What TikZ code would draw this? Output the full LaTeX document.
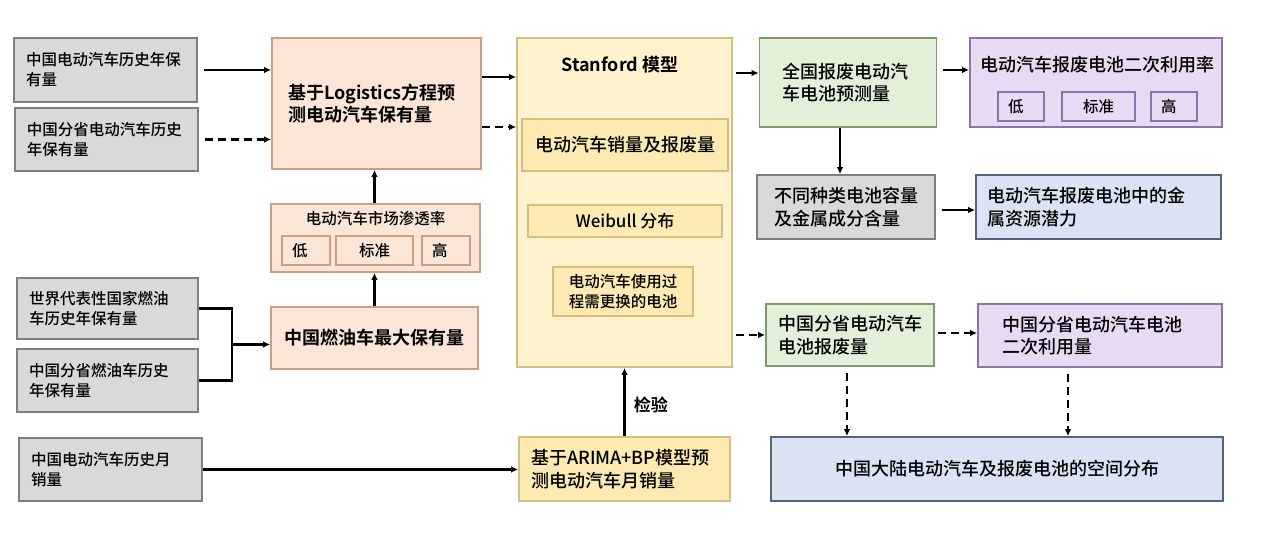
\documentclass[tikz,border=0pt]{standalone}
\usepackage{fontspec}
\setmainfont{Noto Sans CJK SC}[UprightFont={* Medium}, BoldFont={* Bold}]
\usetikzlibrary{arrows.meta,positioning,calc}

\definecolor{grayfill}{HTML}{D9D9D9}
\definecolor{graydraw}{HTML}{7F7F7F}
\definecolor{peachfill}{HTML}{FBE5D6}
\definecolor{peachdraw}{HTML}{C9A085}
\definecolor{yelfill}{HTML}{FFF2CC}
\definecolor{yeldraw}{HTML}{D5BE82}
\definecolor{yelinner}{HTML}{FDE9B2}
\definecolor{greenfill}{HTML}{E2EFD9}
\definecolor{greendraw}{HTML}{7E9A6A}
\definecolor{purpfill}{HTML}{E9DAF4}
\definecolor{purpdraw}{HTML}{8A76A6}
\definecolor{bluefill}{HTML}{DAE3F3}
\definecolor{bluedraw}{HTML}{56627A}

\newcommand{\txtS}{\fontsize{15.5}{20}\selectfont}
\newcommand{\txtL}{\fontsize{18}{22.5}\selectfont}

\begin{document}
\begin{tikzpicture}[x=1pt, y=-1pt,
  box/.style={line width=1.6pt, align=left, inner xsep=12pt, inner ysep=0pt, font=\txtL},
  graybox/.style={box, draw=graydraw, fill=grayfill},
  peachbox/.style={box, draw=peachdraw, fill=peachfill},
  yelbox/.style={box, draw=yeldraw, fill=yelinner},
  greenbox/.style={box, draw=greendraw, fill=greenfill},
  purpbox/.style={box, draw=purpdraw, fill=purpfill},
  bluebox/.style={box, draw=bluedraw, fill=bluefill},
  lvl/.style={line width=1.6pt, minimum height=29, inner sep=0pt, font=\txtS},
  lvlside/.style={lvl, text width=28pt, align=left, inner xsep=10pt},
  arr/.style={line width=2.2pt, -{Latex[length=7pt,width=6.5pt]}},
  darr/.style={arr, dash pattern=on 8pt off 5pt},
]
\useasboundingbox (0,0) rectangle (1280,545);

% inputs on the left
\node[graybox, font=\txtS, text width=159pt, minimum height=64] (a1) at (105.5,70) {中国电动汽车历史年保\\有量};
\node[graybox, font=\txtS, text width=159pt, minimum height=63] (a2) at (106.5,139.5) {中国分省电动汽车历史\\年保有量};
\node[graybox, font=\txtS, text width=157pt, minimum height=61] (b1) at (107.5,308.5) {世界代表性国家燃油\\车历史年保有量};
\node[graybox, font=\txtS, text width=157pt, minimum height=63] (b2) at (107.5,380.5) {中国分省燃油车历史\\年保有量};
\node[graybox, font=\txtS, text width=159pt, minimum height=63] (c1) at (110.5,469.5) {中国电动汽车历史月\\销量};

% peach column
\node[peachbox, font=\txtL\bfseries, text width=177pt, inner xsep=16pt, minimum height=131] (lg) at (376.5,103.5) {基于Logistics方程预\\测电动汽车保有量};
\node[peachbox, minimum width=209, minimum height=68] (pen) at (375.5,238) {};
\node[font=\txtS] (pent) at (375.5,219) {电动汽车市场渗透率};
\node[lvlside, draw=peachdraw, fill=peachfill] (penl) at (306,250.5) {低};
\node[lvl, draw=peachdraw, fill=peachfill, minimum width=77] (pens) at (374.5,250.5) {标准};
\node[lvlside, draw=peachdraw, fill=peachfill] (penh) at (446,250.5) {高};
\node[peachbox, font=\txtL\bfseries, minimum width=207, minimum height=62] (cm) at (374.5,338) {中国燃油车最大保有量};

% Stanford model
\node[box, draw=yeldraw, fill=yelfill, minimum width=215, minimum height=329] (sf) at (624.5,202.5) {};
\node[font=\txtL\bfseries] (sft) at (620,65) {Stanford 模型};
\node[yelbox, minimum width=206, minimum height=52] (sales) at (625,145) {电动汽车销量及报废量};
\node[yelbox, font=\fontsize{17}{20}\selectfont, minimum width=194, minimum height=32] (wb) at (625,221) {Weibull 分布};
\node[yelbox, font=\txtS, minimum width=140, minimum height=49] (rep) at (623,291.5) {电动汽车使用过\\程需更换的电池};
\node[yelbox, text width=187pt, minimum height=64] (ar) at (624.5,469) {基于ARIMA+BP模型预\\测电动汽车月销量};

% outputs on the right
\node[greenbox, text width=131pt, inner xsep=23pt, minimum height=89] (g1) at (848,82.5) {全国报废电动汽\\车电池预测量};
\node[purpbox, minimum width=252, minimum height=89] (p1) at (1096,82.5) {};
\node[font=\txtL] (p1t) at (1097,65) {电动汽车报废电池二次利用率};
\node[lvlside, draw=purpdraw, fill=purpfill, text width=26pt] (p1l) at (1021,106.5) {低};
\node[lvl, draw=purpdraw, fill=purpfill, minimum width=73] (p1s) at (1098.5,106.5) {标准};
\node[lvlside, draw=purpdraw, fill=purpfill, text width=26pt] (p1h) at (1174,106.5) {高};
\node[graybox, minimum width=178, minimum height=64] (gr2) at (846,207) {不同种类电池容量\\及金属成分含量};
\node[bluebox, text width=223pt, inner xsep=11pt, minimum height=64] (bl1) at (1098.5,207) {电动汽车报废电池中的金\\属资源潜力};
\node[greenbox, minimum width=166, minimum height=62] (g2) at (850,335) {中国分省电动汽车\\电池报废量};
\node[purpbox, text width=196pt, inner xsep=24pt, minimum height=63] (p2) at (1100,335.5) {中国分省电动汽车电池\\二次利用量};
\node[bluebox, minimum width=452, minimum height=64] (bl2) at (997,469) {中国大陆电动汽车及报废电池的空间分布};

% connectors, left part
\draw[arr, shorten <=6pt] (a1.east) -- (a1.east -| lg.west);
\draw[darr, shorten <=6pt] (a2.east) -- (a2.east -| lg.west);
\draw[line width=2.2pt] (b1.east) -- ++(33,0) coordinate (bj) |- (b2.east);
\draw[arr] ($(bj)!0.5!(bj |- b2.east)$) -- (cm.west |- {$(bj)!0.5!(bj |- b2.east)$});
\draw[arr] (cm.north -| pens.north) -- (pen.south -| pens.north);
\draw[arr] (pen.north -| pens.north) -- (lg.south -| pens.north);
\draw[arr] (c1.east) -- (c1.east -| ar.west);
\draw[arr] (lg.east |- 0,77) -- (sf.west |- 0,77);
\draw[darr] (lg.east |- 0,127) -- (sf.west |- 0,127);
\draw[arr] (ar.north) -- (sf.south) node[pos=0.46, right=5pt, font=\fontsize{17}{20}\selectfont\bfseries] {检验};

% connectors, right part
\draw[arr, shorten <=3pt] (sf.east |- 0,73) -- (g1.west |- 0,73);
\draw[darr, shorten <=3pt] (sf.east |- g2.west) -- (g2.west);
\draw[arr, shorten <=6pt] (g1.east |- 0,70) -- (p1.west |- 0,70);
\draw[arr] ([xshift=-8pt]g1.south) -- ([xshift=-8pt]g1.south |- gr2.north);
\draw[arr, shorten <=6pt] (gr2.east |- 0,210) -- (bl1.west |- 0,210);
\draw[darr, shorten <=3pt] (g2.east |- 0,333) -- (p2.west |- 0,333);
\draw[darr, shorten <=6pt] ([xshift=-3pt]g2.south) -- ([xshift=-3pt]g2.south |- bl2.north);
\draw[darr, shorten <=6pt] ([xshift=-32pt]p2.south) -- ([xshift=-32pt]p2.south |- bl2.north);
\end{tikzpicture}
\end{document}
